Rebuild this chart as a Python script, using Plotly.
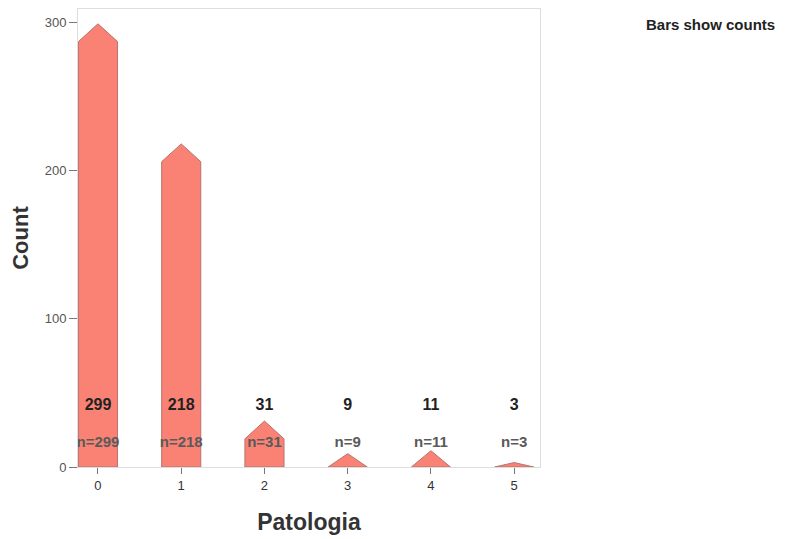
import plotly.graph_objects as go

categories = [0, 1, 2, 3, 4, 5]
counts = [299, 218, 31, 9, 11, 3]
count_labels = ["299", "218", "31", "9", "11", "3"]
n_labels = ["n=299", "n=218", "n=31", "n=9", "n=11", "n=3"]
y_ticks = [0, 100, 200, 300]

BAR_W = 0.47
ARROW_H = 12.0
FILL = "#F98274"
EDGE = "#B9736E"
FONT = "Liberation Sans, Arial, sans-serif"

fig = go.Figure()

for c, v in zip(categories, counts):
    left, right = c - BAR_W / 2, c + BAR_W / 2
    if v > ARROW_H:
        xs = [left, left, c, right, right, left]
        ys = [0, v - ARROW_H, v, v - ARROW_H, 0, 0]
    else:
        xs = [left, c, right, left]
        ys = [0, v, 0, 0]
    fig.add_trace(go.Scatter(
        x=xs, y=ys, mode="lines", fill="toself",
        fillcolor=FILL, line=dict(color=EDGE, width=1),
        hoverinfo="skip", showlegend=False,
    ))

fig.add_trace(go.Scatter(
    x=categories, y=[41] * len(categories), mode="text",
    text=count_labels, textposition="middle center",
    textfont=dict(family=FONT, size=16, color="#222222"),
    texttemplate="<b>%{text}</b>", showlegend=False, hoverinfo="skip",
))
fig.add_trace(go.Scatter(
    x=categories, y=[16] * len(categories), mode="text",
    text=n_labels, textposition="middle center",
    textfont=dict(family=FONT, size=15, color="#5a5a5a"),
    texttemplate="<b>%{text}</b>", showlegend=False, hoverinfo="skip",
))

W, H = 777, 531
L, R, T, B = 70, 245, 1, 72

fig.update_layout(
    width=W, height=H,
    margin=dict(l=L, r=R, t=T, b=B),
    plot_bgcolor="white", paper_bgcolor="white",
    font=dict(family=FONT, color="#333333"),
    xaxis=dict(
        range=[-0.24, 5.31], tickmode="array", tickvals=categories,
        ticktext=[str(c) for c in categories],
        ticks="outside", ticklen=6, tickcolor="#777777",
        tickfont=dict(size=13, color="#333333"),
        showgrid=False, zeroline=False,
        showline=True, linecolor="#dddddd", mirror=True,
        title=dict(text="<b>Patologia</b>", font=dict(size=23, color="#333333"), standoff=22),
    ),
    yaxis=dict(
        range=[0, 309], tickmode="array", tickvals=y_ticks,
        ticks="outside", ticklen=8, tickcolor="#777777",
        tickfont=dict(size=13, color="#555555"),
        showgrid=False, zeroline=False,
        showline=True, linecolor="#dddddd", mirror=True,
        title=dict(text="<b>Count</b>", font=dict(size=22, color="#333333"), standoff=10),
    ),
)
plot_w = W - L - R
plot_h = H - T - B
fig.add_annotation(
    text="<b>Bars show counts</b>", xref="paper", yref="paper",
    x=(769 - L) / plot_w, y=1 - (17 - T) / plot_h,
    xanchor="right", yanchor="middle", showarrow=False,
    font=dict(family=FONT, size=15, color="#222222"),
)

fig.write_html("out.html")
